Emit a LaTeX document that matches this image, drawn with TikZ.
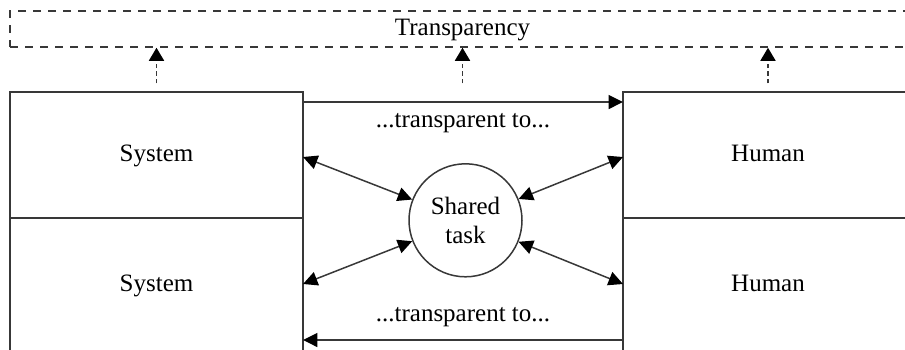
\documentclass[tikz,border=0pt]{standalone}
\usepackage{fontspec}
\setmainfont{Liberation Serif}
\newfontfamily\tmsfont{Liberation Serif}
\usetikzlibrary{arrows.meta,calc}
\begin{document}
\begin{tikzpicture}[x=0.5pt,y=-0.5pt,
  ln/.style={draw=black!78, line width=0.75pt},
  txt/.style={font=\tmsfont\fontsize{12.5}{14.5}\selectfont},
  box/.style={ln, rectangle, inner sep=0pt, txt, text height=8.5pt, text depth=2.5pt},
  tip/.style={-{Triangle[length=7.2pt,width=7pt,color=black]}},
  dtip/.style={{Triangle[length=7.2pt,width=7pt,color=black]}-{Triangle[length=7.2pt,width=7pt,color=black]}},
  lbl/.style={txt, inner sep=0pt},
  dasharrow/.style={ln, line width=0.8pt, dash pattern=on 2.2pt off 1.6pt, -{Triangle[length=6.5pt,width=7.5pt,color=black]}}
]
\useasboundingbox (0,0) rectangle (905,349);
\clip (0,0) rectangle (905,349);
% boxes
\node[box, minimum width=146.5pt, minimum height=63pt] (sys1) at (156.5,155) {System};
\node[box, minimum width=146.5pt, minimum height=67pt] (sys2) at (156.5,285) {System};
\node[box, minimum width=145pt, minimum height=63pt] (hum1) at (768,155) {Human};
\node[box, minimum width=145pt, minimum height=67pt] (hum2) at (768,285) {Human};
\node[box, dash pattern=on 4pt off 3.5pt, minimum width=452.5pt, minimum height=18pt] (trans) at (462.5,29) {Transparency};
\node[ln, circle, minimum size=56.5pt, inner sep=0pt, align=center, txt] (task) at (465.5,220.3) {Shared\\task};
% attachment coordinates
\coordinate (s1r) at (303,157);
\coordinate (s2r) at (303,284);
\coordinate (h1l) at (623,157);
\coordinate (h2l) at (623,284);
\coordinate (topa) at (303,102);
\coordinate (topb) at (623,102);
\coordinate (bota) at (623,340);
\coordinate (botb) at (303,340);
% transparent to arrows
\draw[ln, tip] (topa) -- (topb) node[lbl, midway, below=5.5pt] {...transparent to...};
\draw[ln, tip] (bota) -- (botb) node[lbl, midway, above=6pt] {...transparent to...};
% shared task arrows
\draw[ln, dtip] (s1r) -- (task);
\draw[ln, dtip] (s2r) -- (task);
\draw[ln, dtip] (h1l) -- (task);
\draw[ln, dtip] (h2l) -- (task);
% dashed arrows up
\draw[dasharrow] ([yshift=4pt]sys1.north) -- (sys1.north |- trans.south);
\draw[dasharrow] ([yshift=4pt]trans.south |- sys1.north) -- (trans.south);
\draw[dasharrow] ([yshift=4pt]hum1.north) -- (hum1.north |- trans.south);
\end{tikzpicture}
\end{document}
